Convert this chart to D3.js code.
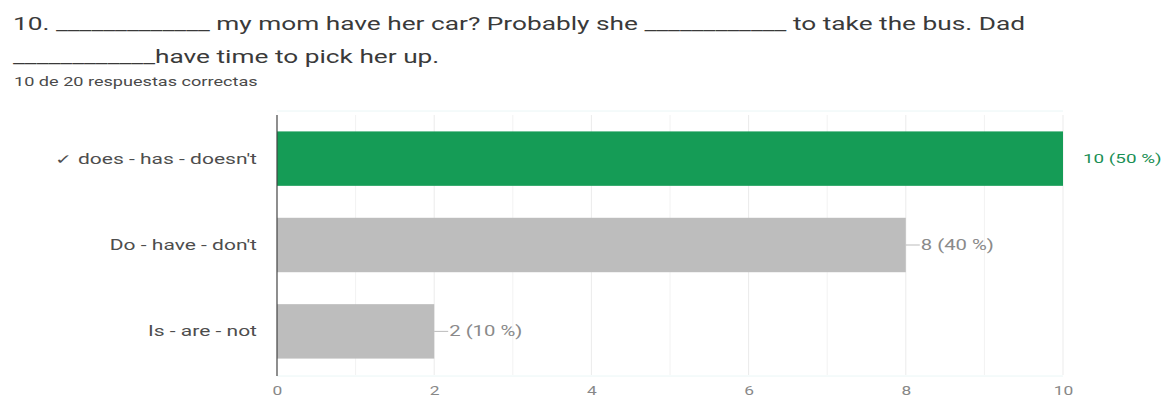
<!DOCTYPE html>
<html>
<head>
<meta charset="utf-8">
<script src="https://cdn.jsdelivr.net/npm/d3@7"></script>
<style>
  html, body { margin: 0; padding: 0; background: #fff; }
  svg { display: block; font-family: Roboto, "Noto Sans", Arial, sans-serif; }
</style>
</head>
<body>
<svg id="chart" width="1172" height="397"></svg>
<script>
// Question text and response summary
const questionLines = [
  "10. _____________ my mom have her car? Probably she ____________ to take the bus. Dad",
  "____________have time to pick her up."
];
const summary = "10 de 20 respuestas correctas";

// Answer options, response counts and which one is correct
const categories = ["✓ does - has - doesn't", "Do - have - don't", "Is - are - not"];
const counts = [10, 8, 2];
const correct = [true, false, false];
const totalResponses = 20;
const tickValues = [0, 2, 4, 6, 8, 10];

// Horizontal stretch applied to text runs (wide glyph look)
const SX = 1.45;
const SX_TITLE = 1.5;
const place = (x, y, s = SX) => `translate(${x},${y}) scale(${s},1)`;

const svg = d3.select("#chart");

// Header
svg.selectAll("text.q")
  .data(questionLines)
  .join("text")
  .attr("class", "q")
  .attr("transform", (d, i) => place(13, 30 + i * 33, SX_TITLE))
  .attr("font-size", 17.5)
  .attr("fill", "#3a3a3a")
  .text(d => d);

svg.append("text")
  .attr("transform", place(14, 86))
  .attr("font-size", 12.5)
  .attr("fill", "#4a4a4a")
  .text(summary);

// Scales
const x = d3.scaleLinear().domain([0, 10]).range([277, 1063]);
const y = d3.scaleBand().domain(categories).range([115, 375])
  .paddingInner(0.37).paddingOuter(0.19);

// Vertical grid at every unit
svg.append("g")
  .selectAll("line")
  .data(d3.range(1, 11))
  .join("line")
  .attr("x1", d => x(d)).attr("x2", d => x(d))
  .attr("y1", 115).attr("y2", 375)
  .attr("stroke", d => d % 2 === 0 ? "#ebebeb" : "#f2f2f2")
  .attr("stroke-width", 1);

// Plot area top/bottom edges
svg.append("g")
  .selectAll("line")
  .data([111, 376])
  .join("line")
  .attr("x1", 277).attr("x2", 1063)
  .attr("y1", d => d).attr("y2", d => d)
  .attr("stroke", "#eaf6f6");

// Bars
const rows = categories.map((c, i) => ({ c, v: counts[i], ok: correct[i] }));
svg.append("g")
  .selectAll("rect")
  .data(rows)
  .join("rect")
  .attr("x", x(0))
  .attr("y", d => y(d.c))
  .attr("width", d => x(d.v) - x(0))
  .attr("height", y.bandwidth())
  .attr("fill", d => d.ok ? "#159c56" : "#bdbdbd");

// Baseline axis line
svg.append("line")
  .attr("x1", x(0)).attr("x2", x(0))
  .attr("y1", 115).attr("y2", 376)
  .attr("stroke", "#444")
  .attr("stroke-width", 1.2);

// Category labels
svg.append("g")
  .selectAll("text")
  .data(rows)
  .join("text")
  .attr("transform", d => place(257, y(d.c) + y.bandwidth() / 2))
  .attr("dy", "0.35em")
  .attr("text-anchor", "end")
  .attr("font-size", 14.5)
  .attr("fill", "#4d4d4d")
  .text(d => d.c);

// Value labels with leader lines
const maxV = d3.max(counts);
const labels = svg.append("g");
rows.forEach(d => {
  const cy = y(d.c) + y.bandwidth() / 2;
  const pct = Math.round(d.v / totalResponses * 100);
  if (d.v === maxV) {
    labels.append("text")
      .attr("transform", place(x(d.v) + 20, cy))
      .attr("dy", "0.35em")
      .attr("font-size", 13)
      .attr("fill", d.ok ? "#1a8f55" : "#777")
      .text(`${d.v} (${pct} %)`);
  } else {
    labels.append("line")
      .attr("x1", x(d.v)).attr("x2", x(d.v) + 14)
      .attr("y1", cy).attr("y2", cy)
      .attr("stroke", "#bbb");
    labels.append("text")
      .attr("transform", place(x(d.v) + 15, cy))
      .attr("dy", "0.35em")
      .attr("font-size", 14)
      .attr("fill", "#8a8a8a")
      .text(`${d.v} (${pct} %)`);
  }
});

// Bottom axis tick labels
const axis = d3.axisBottom(x).tickValues(tickValues).tickSize(0).tickPadding(8);
const gx = svg.append("g").attr("transform", "translate(0,378)").call(axis);
gx.select(".domain").remove();
gx.selectAll("text")
  .attr("font-size", 12)
  .attr("fill", "#888")
  .attr("font-family", "Roboto, 'Noto Sans', Arial, sans-serif")
  .attr("transform", `scale(${SX},1)`);
</script>
</body>
</html>
